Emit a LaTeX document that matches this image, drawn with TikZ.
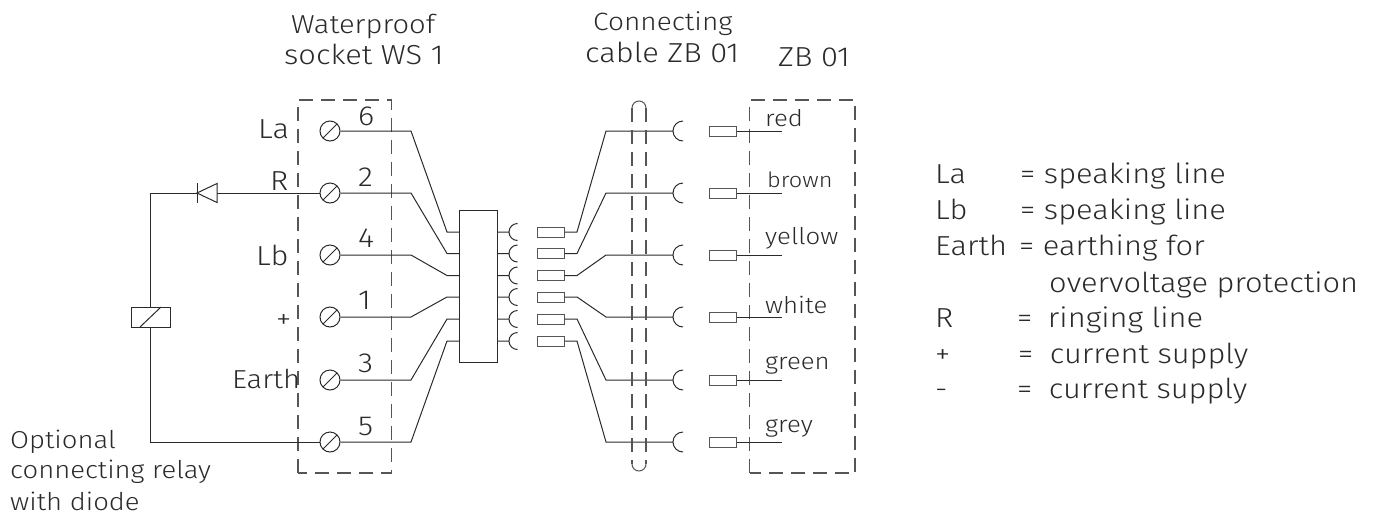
\documentclass[tikz,border=0pt]{standalone}
\usepackage{fontspec}
\setmainfont[FakeStretch=1.12]{Fira Sans Light}
\definecolor{inkc}{HTML}{2B2A29}
\definecolor{dashc}{HTML}{555555}
\tikzset{
    wire/.style={line width=1pt, color=inkc},
    dashbox/.style={line width=1.1pt, color=dashc, dash pattern=on 14pt off 8pt},
    screw/.style={circle, draw=inkc, line width=1pt, minimum size=20pt, inner sep=0pt, path picture={\draw[wire] (path picture bounding box.south west) -- (path picture bounding box.north east);}},
    plug/.style={rectangle, draw=inkc!80, line width=1pt, minimum width=27pt, minimum height=10pt, inner sep=0pt},
    lbl/.style={font=\fontsize{27.5}{27.5}\selectfont, text=inkc, inner sep=0pt, anchor=base west},
    narrow/.style={font=\fontsize{25}{25}\selectfont},
    small/.style={font=\fontsize{23}{23}\selectfont, text=inkc, inner sep=0pt, anchor=base west}
}
\begin{document}
\begin{tikzpicture}[x=1pt, y=1pt]
    \useasboundingbox (0,0) rectangle (1377,-515);

    % socket and terminals
    \draw[dashbox] (298,-473) rectangle (391.5,-100);
    \node[screw] (s6) at (330,-131) {};
    \node[screw] (s2) at (330,-193) {};
    \node[screw] (s4) at (330,-255) {};
    \node[screw] (s1) at (330,-317) {};
    \node[screw] (s3) at (330,-380) {};
    \node[screw] (s5) at (330,-442) {};

    % hub
    \node[draw=inkc, line width=1pt, minimum width=37.5pt, minimum height=152pt, inner sep=0pt] (hub) at (478.5,-286) {};
    \coordinate (h1) at (447,-232);
    \coordinate (h2) at (447,-253.5);
    \coordinate (h3) at (447,-275.5);
    \coordinate (h4) at (447,-297);
    \coordinate (h5) at (447,-319);
    \coordinate (h6) at (447,-341);
    \draw[wire] (s6) -- (411,-131) -- (h1) -- (h1 -| hub.west);
    \draw[wire] (s2) -- (411,-193) -- (h2) -- (h2 -| hub.west);
    \draw[wire] (s4) -- (411,-255) -- (h3) -- (h3 -| hub.west);
    \draw[wire] (s1) -- (411,-317) -- (h4) -- (h4 -| hub.west);
    \draw[wire] (s3) -- (411,-380) -- (h5) -- (h5 -| hub.west);
    \draw[wire] (s5) -- (411,-442) -- (h6) -- (h6 -| hub.west);

    % cups beside the hub
    \coordinate (c1) at (509,-232);
    \coordinate (c2) at (509,-253.5);
    \coordinate (c3) at (509,-275.5);
    \coordinate (c4) at (509,-297);
    \coordinate (c5) at (509,-319);
    \coordinate (c6) at (509,-341);
    \draw[wire] (c1 -| hub.east) -- (c1) ++(8.5,8.5) arc (90:270:8.5);
    \draw[wire] (c2 -| hub.east) -- (c2) ++(8.5,8.5) arc (90:270:8.5);
    \draw[wire] (c3 -| hub.east) -- (c3) ++(8.5,8.5) arc (90:270:8.5);
    \draw[wire] (c4 -| hub.east) -- (c4) ++(8.5,8.5) arc (90:270:8.5);
    \draw[wire] (c5 -| hub.east) -- (c5) ++(8.5,8.5) arc (90:270:8.5);
    \draw[wire] (c6 -| hub.east) -- (c6) ++(8.5,8.5) arc (90:270:8.5);

    % plugs and cable
    \node[plug] (p1) at (550.5,-232) {};
    \node[plug] (p2) at (550.5,-253.5) {};
    \node[plug] (p3) at (550.5,-275.5) {};
    \node[plug] (p4) at (550.5,-297) {};
    \node[plug] (p5) at (550.5,-319) {};
    \node[plug] (p6) at (550.5,-341) {};
    \coordinate (e1) at (673,-131);
    \coordinate (e2) at (673,-193);
    \coordinate (e3) at (673,-255);
    \coordinate (e4) at (673,-317);
    \coordinate (e5) at (673,-380);
    \coordinate (e6) at (673,-442);
    \draw[wire] (p1) -- (577,-232) -- (606,-131) -- (e1) ++(10,10) arc (90:270:10);
    \draw[wire] (p2) -- (577,-253.5) -- (606,-193) -- (e2) ++(10,10) arc (90:270:10);
    \draw[wire] (p3) -- (577,-275.5) -- (606,-255) -- (e3) ++(10,10) arc (90:270:10);
    \draw[wire] (p4) -- (577,-297) -- (606,-317) -- (e4) ++(10,10) arc (90:270:10);
    \draw[wire] (p5) -- (577,-319) -- (606,-380) -- (e5) ++(10,10) arc (90:270:10);
    \draw[wire] (p6) -- (577,-341) -- (606,-442) -- (e6) ++(10,10) arc (90:270:10);
    \draw[dashbox] (632,-108) -- (632,-464) (646,-108) -- (646,-464);
    \draw[wire, color=dashc] (632,-108) arc (180:0:7);
    \draw[wire, color=dashc] (632,-464) arc (180:360:7);

    % right box
    \draw[dashbox] (749.5,-473) rectangle (855,-100);
    \node[plug] (q1) at (723,-131) {};
    \node[plug] (q2) at (723,-193) {};
    \node[plug] (q3) at (723,-255) {};
    \node[plug] (q4) at (723,-317) {};
    \node[plug] (q5) at (723,-380) {};
    \node[plug] (q6) at (723,-442) {};
    \draw[wire] (q1) -- (782,-131);
    \draw[wire] (q2) -- (782,-193);
    \draw[wire] (q3) -- (782,-255);
    \draw[wire] (q4) -- (782,-317);
    \draw[wire] (q5) -- (782,-380);
    \draw[wire] (q6) -- (782,-442);

    % relay and diode
    \node[draw=inkc, line width=1pt, minimum width=39pt, minimum height=20pt, inner sep=0pt] (relay) at (150.5,-317) {};
    \coordinate (d1) at (197,-193);
    \coordinate (d2) at (217,-193);
    \draw[wire] (s2) -- (d2);
    \draw[wire] (d1) -- (150.5,-193) -- (relay.north);
    \draw[wire] (relay.south) -- (150.5,-442) -- (s5);
    \draw[wire] (d1) -- (217,-183.5) -- (217,-202.5) -- cycle;
    \draw[wire] (197,-183) -- (197,-203);
    \draw[wire] (140,-327) -- (161,-307);

    % titles
    \node[lbl, font=\fontsize{26}{26}\selectfont] (t1) at (291,-33) {Waterproof};
    \node[lbl] (t2) at (284,-64) {socket WS 1};
    \node[lbl, narrow] (t3) at (593,-30) {Connecting};
    \node[lbl] (t4) at (585,-62) {cable ZB 01};
    \node[lbl] (t5) at (778,-66) {ZB 01};

    % left labels
    \node[lbl] (la) at (258,-138) {La};
    \node[lbl] (r) at (270,-190) {R};
    \node[lbl] (lb) at (256,-265) {Lb};
    \node[lbl] (plus) at (276,-328) {+};
    \node[lbl, font=\fontsize{26}{26}\selectfont] (earth) at (232,-388) {Earth};
    \node[lbl] (n6) at (358,-125) {6};
    \node[lbl] (n2) at (358,-186) {2};
    \node[lbl] (n4) at (358,-247) {4};
    \node[lbl] (n1) at (358,-309) {1};
    \node[lbl] (n3) at (358,-372) {3};
    \node[lbl] (n5) at (358,-435) {5};
    \node[lbl, font=\fontsize{24.5}{24.5}\selectfont] (o1) at (10,-448) {Optional};
    \node[lbl, font=\fontsize{24.5}{24.5}\selectfont] (o2) at (10,-478) {connecting relay};
    \node[lbl, font=\fontsize{24.5}{24.5}\selectfont] (o3) at (10,-510) {with diode};

    % wire colours
    \node[small] (red) at (765,-126) {red};
    \node[small, font=\fontsize{21}{21}\selectfont] (brown) at (767,-187) {brown};
    \node[small] (yellow) at (765,-244) {yellow};
    \node[small] (white) at (765,-313) {white};
    \node[small] (green) at (765,-369) {green};
    \node[small] (grey) at (765,-432) {grey};

    % legend
    \node[lbl] (k1) at (935,-183) {La};
    \node[lbl] (v1) at (1020,-183) {= speaking line};
    \node[lbl] (k2) at (935,-219) {Lb};
    \node[lbl] (v2) at (1020,-219) {= speaking line};
    \node[lbl] (k3) at (935,-255) {Earth};
    \node[lbl] (v3) at (1019,-255) {= earthing for};
    \node[lbl] (v3b) at (1049,-292) {overvoltage protection};
    \node[lbl] (k4) at (935,-327) {R};
    \node[lbl] (v4) at (1017,-327) {= \hspace{7pt}ringing line};
    \node[lbl] (k5) at (935,-363) {+};
    \node[lbl] (v5) at (1018,-363) {= \hspace{8pt}current supply};
    \node[lbl] (k6) at (935,-398) {-};
    \node[lbl] (v6) at (1017,-398) {= \hspace{8pt}current supply};
\end{tikzpicture}
\end{document}
